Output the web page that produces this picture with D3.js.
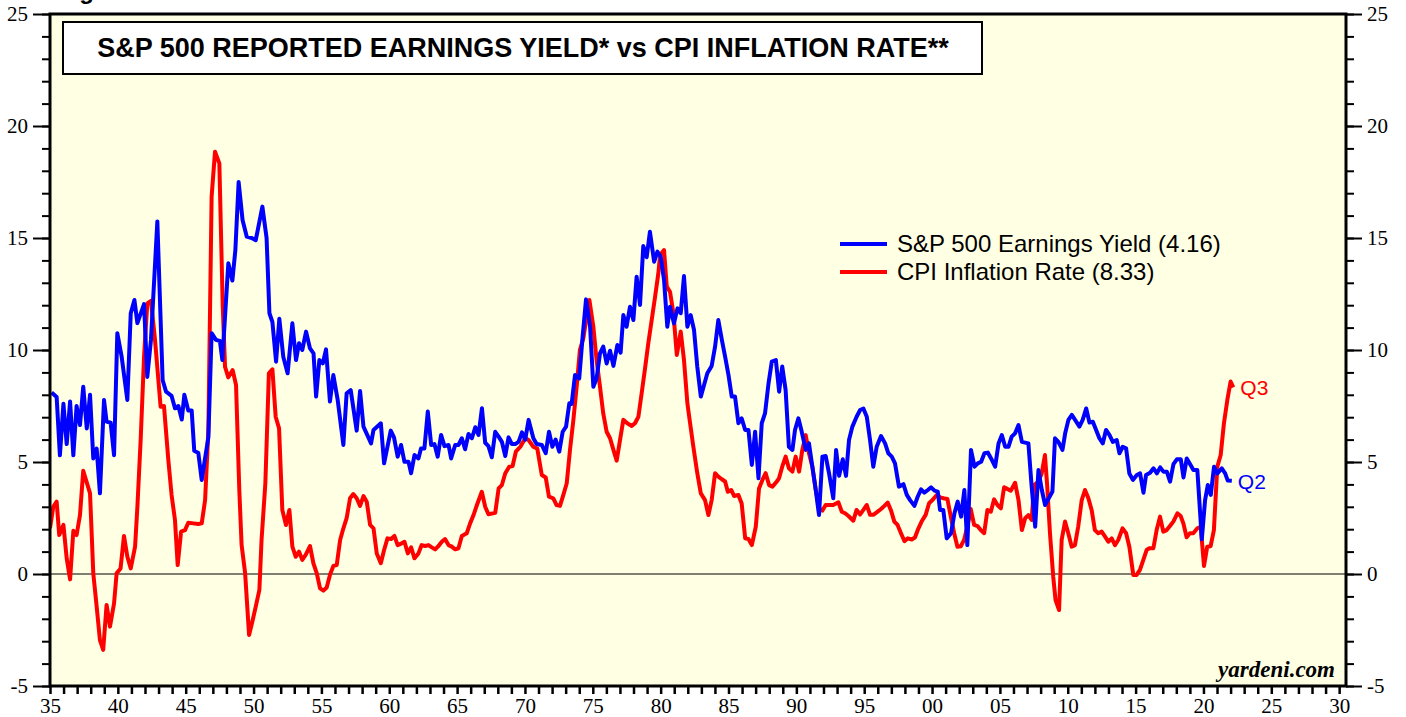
<!DOCTYPE html>
<html>
<head>
<meta charset="utf-8">
<script src="https://cdn.jsdelivr.net/npm/d3@7"></script>
<style>
  body { margin: 0; background: #fff; }
  svg { display: block; }
</style>
</head>
<body>
<svg id="chart" width="1406" height="717"></svg>
<script>
// axis ticks
const xTickYears = d3.range(1935, 2031);
const yTicks = d3.range(-5, 26);
const yLabelTicks = [-5, 0, 5, 10, 15, 20, 25];

const chartTitle = 'S&P 500 REPORTED EARNINGS YIELD* vs CPI INFLATION RATE**';
const legendLabels = ['S&P 500 Earnings Yield (4.16)', 'CPI Inflation Rate (8.33)'];
const lastLabels = ['Q2', 'Q3'];

// [year, percent]
const earningsYield = [
  [1935.12,8.1],[1935.49,7.9],[1935.73,5.3],[1935.99,7.6],[1936.23,5.8],[1936.48,7.7],[1936.72,5.3],[1936.96,7.5],
  [1937.21,6.65],[1937.45,8.36],[1937.71,6.5],[1937.95,8.0],[1938.19,5.16],[1938.44,5.6],[1938.68,3.6],[1938.98,7.77],
  [1939.17,6.8],[1939.47,6.75],[1939.72,5.3],[1939.96,10.75],[1940.28,9.7],[1940.7,7.77],[1940.95,11.64],[1941.22,12.23],
  [1941.44,11.2],[1941.93,12.05],[1942.17,8.8],[1942.44,10.45],[1942.91,15.74],[1943.3,8.66],[1943.55,8.14],[1943.96,7.95],
  [1944.21,7.4],[1944.46,7.5],[1944.71,6.9],[1944.9,8.0],[1945.19,7.3],[1945.44,7.3],[1945.63,5.5],[1945.93,5.4],
  [1946.18,4.2],[1946.67,6.1],[1946.91,10.75],[1947.23,10.45],[1947.52,10.4],[1947.7,9.55],[1948.14,13.87],[1948.44,13.1],
  [1948.66,14.46],[1948.9,17.5],[1949.19,15.8],[1949.5,15.06],[1949.86,15.0],[1950.16,14.9],[1950.65,16.4],[1950.96,15.0],
  [1951.17,11.64],[1951.39,11.25],[1951.66,9.48],[1951.9,11.4],[1952.19,9.7],[1952.51,8.96],[1952.86,11.19],[1953.13,9.55],
  [1953.35,10.3],[1953.59,10.0],[1953.87,10.82],[1954.16,10.07],[1954.42,9.85],[1954.61,7.92],[1954.85,9.55],[1955.1,9.4],
  [1955.34,10.03],[1955.63,7.7],[1955.88,8.88],[1956.2,7.77],[1956.62,5.76],[1956.86,8.07],[1957.16,8.21],[1957.6,6.4],
  [1957.85,8.17],[1958.1,6.58],[1958.66,5.83],[1958.84,6.43],[1959.38,6.73],[1959.62,4.94],[1960.11,6.4],[1960.35,6.1],
  [1960.62,5.24],[1960.87,5.76],[1961.12,5.01],[1961.42,5.01],[1961.61,4.5],[1961.86,5.31],[1962.15,5.16],[1962.34,5.6],
  [1962.59,5.6],[1962.84,7.25],[1963.09,5.76],[1963.33,5.8],[1963.57,5.24],[1963.82,6.21],[1964.07,5.71],[1964.37,5.76],
  [1964.56,5.16],[1964.86,5.76],[1965.1,5.76],[1965.35,6.06],[1965.59,5.57],[1965.84,6.25],[1966.09,6.06],[1966.34,6.55],
  [1966.58,6.21],[1966.83,7.4],[1967.07,5.86],[1967.31,5.71],[1967.56,5.21],[1967.81,6.35],[1968.06,6.13],[1968.3,5.9],
  [1968.55,5.27],[1968.79,6.1],[1969.04,5.8],[1969.28,5.8],[1969.53,5.9],[1969.78,6.32],[1970.02,6.0],[1970.27,6.88],
  [1970.62,6.06],[1970.86,5.8],[1971.24,5.76],[1971.53,5.39],[1971.77,6.35],[1972.02,5.68],[1972.26,6.0],[1972.53,5.46],
  [1972.78,6.35],[1973.03,6.58],[1973.27,7.62],[1973.44,7.59],[1973.69,8.88],[1974.0,8.73],[1974.25,10.6],[1974.5,12.26],
  [1974.8,11.04],[1975.04,8.36],[1975.28,8.73],[1975.53,9.85],[1975.77,10.15],[1976.02,9.4],[1976.27,9.97],[1976.52,9.29],
  [1976.81,10.22],[1977.05,9.88],[1977.25,11.56],[1977.49,11.04],[1977.74,11.93],[1977.99,11.34],[1978.23,13.27],[1978.48,12.01],
  [1978.72,14.64],[1978.97,14.14],[1979.21,15.28],[1979.52,13.94],[1979.76,14.39],[1980.0,14.17],[1980.25,13.13],[1980.49,11.04],
  [1980.69,11.93],[1980.98,11.19],[1981.24,11.86],[1981.48,11.64],[1981.72,13.3],[1981.97,11.04],[1982.21,11.56],[1982.46,10.89],
  [1982.7,9.25],[1982.96,7.92],[1983.2,8.44],[1983.44,8.96],[1983.76,9.29],[1984.01,10.15],[1984.25,11.34],[1984.51,10.45],
  [1984.75,9.7],[1985.0,8.88],[1985.24,7.92],[1985.48,7.92],[1985.73,6.73],[1985.97,6.95],[1986.23,6.43],[1986.47,6.43],
  [1986.72,4.87],[1986.96,6.35],[1987.21,4.27],[1987.45,6.73],[1987.69,7.17],[1987.95,8.51],[1988.19,9.48],[1988.49,9.55],
  [1988.73,8.14],[1988.96,9.26],[1989.21,8.21],[1989.45,5.68],[1989.71,5.54],[1989.9,6.43],[1990.15,6.95],[1990.39,6.37],
  [1990.69,5.54],[1990.93,5.83],[1991.18,4.79],[1991.43,3.75],[1991.67,2.63],[1991.92,5.24],[1992.16,5.27],[1992.41,4.49],
  [1992.72,3.38],[1992.93,5.54],[1993.15,4.38],[1993.42,5.12],[1993.66,4.38],[1993.88,5.98],[1994.13,6.58],[1994.44,7.02],
  [1994.7,7.32],[1994.94,7.39],[1995.19,7.02],[1995.43,5.98],[1995.67,4.79],[1995.92,5.68],[1996.24,6.16],[1996.54,5.83],
  [1996.78,5.39],[1997.03,5.24],[1997.27,4.94],[1997.56,3.9],[1997.89,4.01],[1998.14,3.53],[1998.38,3.3],[1998.7,3.04],
  [1998.94,3.45],[1999.19,3.78],[1999.43,3.63],[1999.69,3.75],[1999.93,3.87],[2000.18,3.72],[2000.42,3.68],[2000.59,2.86],
  [2000.83,2.86],[2001.08,1.59],[2001.4,1.82],[2001.65,2.71],[2001.89,3.23],[2002.14,2.56],[2002.38,3.75],[2002.6,1.29],
  [2002.87,5.54],[2003.13,4.79],[2003.37,4.94],[2003.62,5.01],[2003.86,5.39],[2004.11,5.42],[2004.35,5.16],[2004.65,4.79],
  [2004.9,5.83],[2005.14,6.2],[2005.39,5.68],[2005.63,5.68],[2005.87,6.13],[2006.12,6.28],[2006.37,6.65],[2006.62,5.9],
  [2007.1,5.83],[2007.34,3.9],[2007.6,2.11],[2007.84,4.64],[2008.09,3.75],[2008.33,3.08],[2008.87,3.68],[2009.06,6.06],
  [2009.31,5.9],[2009.61,5.54],[2009.81,6.28],[2010.05,6.88],[2010.3,7.1],[2010.54,6.88],[2010.86,6.58],[2011.1,6.88],
  [2011.36,7.39],[2011.6,6.76],[2011.85,6.8],[2012.09,6.43],[2012.33,6.06],[2012.58,5.83],[2012.82,6.43],[2013.08,6.2],
  [2013.32,5.9],[2013.61,5.98],[2013.81,5.39],[2014.05,5.68],[2014.3,5.61],[2014.54,4.49],[2014.8,4.2],[2015.09,4.42],
  [2015.33,4.49],[2015.58,3.63],[2015.77,4.42],[2016.07,4.52],[2016.32,4.72],[2016.57,4.49],[2016.81,4.76],[2017.05,4.57],
  [2017.3,4.57],[2017.54,4.12],[2017.79,4.9],[2018.04,5.12],[2018.33,5.12],[2018.53,4.31],[2018.77,5.16],[2019.02,4.9],
  [2019.26,4.64],[2019.55,4.64],[2019.88,1.55],[2020.12,3.3],[2020.32,3.97],[2020.54,3.53],[2020.78,4.79],[2021.03,4.49],
  [2021.35,4.72],[2021.6,4.49],[2021.79,4.17],[2022.09,4.16]
];

const cpiInflation = [
  [1935.0,2.04],[1935.24,3.0],[1935.49,3.23],[1935.68,1.74],[1935.99,2.19],[1936.23,0.7],[1936.48,-0.24],[1936.72,1.93],
  [1936.96,1.74],[1937.21,2.63],[1937.45,4.61],[1937.95,3.6],[1938.19,0.03],[1938.44,-1.46],[1938.68,-2.95],[1938.92,-3.39],
  [1939.17,-1.38],[1939.42,-2.35],[1939.72,-1.31],[1939.91,0.03],[1940.2,0.25],[1940.45,1.7],[1940.7,0.77],[1940.95,0.25],
  [1941.27,1.22],[1941.44,3.0],[1941.68,5.98],[1941.93,9.7],[1942.17,12.08],[1942.44,12.19],[1942.74,10.45],[1943.15,7.47],
  [1943.4,7.5],[1943.72,5.09],[1943.96,3.53],[1944.21,2.41],[1944.41,0.4],[1944.66,1.89],[1944.95,1.96],[1945.19,2.29],
  [1945.56,2.26],[1945.93,2.23],[1946.18,2.26],[1946.43,3.3],[1946.67,6.43],[1946.91,16.85],[1947.16,18.85],[1947.48,18.33],
  [1947.73,11.93],[1947.9,9.25],[1948.14,8.78],[1948.46,9.1],[1948.71,8.44],[1948.95,3.75],[1949.12,1.29],[1949.38,0.03],
  [1949.67,-2.72],[1949.91,-2.13],[1950.19,-1.38],[1950.43,-0.71],[1950.59,1.52],[1950.87,4.05],[1951.13,8.96],[1951.39,9.14],
  [1951.63,7.02],[1951.88,6.5],[1952.12,2.86],[1952.39,2.19],[1952.64,2.86],[1952.86,1.22],[1953.11,0.77],[1953.35,1.0],
  [1953.59,0.63],[1953.84,0.85],[1954.16,1.25],[1954.41,0.48],[1954.66,0.03],[1954.9,-0.64],[1955.15,-0.74],[1955.39,-0.6],
  [1955.63,-0.04],[1955.88,0.36],[1956.13,0.4],[1956.38,1.52],[1956.62,2.04],[1956.86,2.49],[1957.11,3.38],[1957.35,3.57],
  [1957.6,3.38],[1957.85,3.04],[1958.1,3.48],[1958.34,3.23],[1958.59,2.19],[1958.84,2.04],[1959.08,0.92],[1959.38,0.48],
  [1959.62,1.07],[1959.87,1.59],[1960.14,1.56],[1960.38,1.7],[1960.62,1.29],[1960.92,1.37],[1961.12,1.44],[1961.37,0.92],
  [1961.61,1.19],[1961.86,0.7],[1962.15,0.92],[1962.39,1.29],[1962.64,1.25],[1962.89,1.29],[1963.14,1.19],[1963.38,1.1],
  [1963.63,1.25],[1963.87,1.44],[1964.11,1.56],[1964.37,1.29],[1964.61,1.22],[1964.86,1.1],[1965.1,1.15],[1965.35,1.7],
  [1965.71,1.82],[1965.96,2.26],[1966.21,2.63],[1966.46,3.08],[1966.82,3.67],[1967.07,3.0],[1967.31,2.67],[1967.81,2.73],
  [1968.06,3.82],[1968.3,3.97],[1968.55,4.5],[1968.84,4.79],[1969.09,4.82],[1969.33,5.46],[1969.66,5.68],[1970.02,6.06],
  [1970.27,5.98],[1970.62,5.68],[1970.91,5.6],[1971.24,4.42],[1971.53,4.31],[1971.77,3.45],[1972.09,3.38],[1972.33,3.08],
  [1972.58,3.04],[1972.83,3.53],[1973.08,4.05],[1973.32,5.54],[1973.57,6.88],[1973.81,8.36],[1974.05,10.0],[1974.3,10.52],
  [1974.55,11.49],[1974.75,12.23],[1975.04,11.04],[1975.28,9.55],[1975.53,8.36],[1975.77,7.17],[1976.02,6.35],[1976.27,6.06],
  [1976.52,5.54],[1976.76,5.06],[1977.01,6.0],[1977.25,6.88],[1977.54,6.73],[1977.87,6.61],[1978.11,6.73],[1978.36,7.02],
  [1978.6,8.07],[1978.85,9.18],[1979.09,10.3],[1979.34,11.34],[1979.59,12.38],[1979.83,13.42],[1979.96,14.24],[1980.25,14.46],
  [1980.45,12.83],[1980.69,12.6],[1980.94,11.64],[1981.19,9.78],[1981.48,10.82],[1981.72,9.55],[1981.97,7.62],[1982.17,6.73],
  [1982.41,5.68],[1982.7,4.5],[1982.96,3.6],[1983.27,3.3],[1983.52,2.63],[1983.76,3.3],[1984.01,4.5],[1984.25,4.35],
  [1984.51,4.23],[1984.75,4.13],[1984.95,3.67],[1985.2,3.75],[1985.42,3.48],[1985.73,3.53],[1985.97,3.15],[1986.23,1.59],
  [1986.47,1.56],[1986.72,1.29],[1987.01,2.11],[1987.25,3.82],[1987.5,4.2],[1987.74,4.5],[1987.99,3.97],[1988.24,3.9],
  [1988.56,4.13],[1988.72,4.27],[1988.96,4.79],[1989.21,5.24],[1989.45,4.72],[1989.71,4.57],[1989.95,5.24],[1990.2,4.57],
  [1990.44,5.54],[1990.69,6.2],[1990.93,5.39],[1991.18,4.79],[1991.43,3.75],[1991.67,2.93],[1991.92,2.83],[1992.16,3.08],
  [1992.48,3.08],[1992.72,3.08],[1993.1,3.2],[1993.35,2.78],[1993.59,2.71],[1993.84,2.59],[1994.2,2.38],[1994.44,2.86],
  [1994.7,2.66],[1994.94,2.86],[1995.19,3.08],[1995.43,2.64],[1995.67,2.64],[1995.92,2.75],[1996.24,2.9],[1996.49,3.04],
  [1996.73,3.19],[1996.98,2.83],[1997.22,2.34],[1997.46,2.19],[1997.71,1.82],[1997.96,1.47],[1998.21,1.59],[1998.5,1.54],
  [1998.74,1.63],[1998.99,2.03],[1999.23,2.34],[1999.53,2.64],[1999.78,3.16],[2000.03,3.3],[2000.35,3.53],[2000.59,3.42],
  [2000.84,3.38],[2001.13,3.35],[2001.38,2.56],[2001.63,1.82],[2001.87,1.22],[2002.12,1.24],[2002.36,1.52],[2002.6,2.11],
  [2002.85,2.9],[2003.1,2.19],[2003.35,2.14],[2003.59,1.96],[2003.84,1.82],[2004.08,2.86],[2004.33,2.78],[2004.57,3.33],
  [2004.82,3.08],[2005.07,2.93],[2005.31,3.87],[2005.56,3.8],[2005.8,3.72],[2006.12,4.07],[2006.37,3.3],[2006.62,1.96],
  [2006.86,2.49],[2007.1,2.63],[2007.34,2.41],[2007.52,3.97],[2007.83,4.12],[2008.08,4.49],[2008.32,5.31],[2008.49,3.9],
  [2008.69,1.82],[2008.93,-0.12],[2009.1,-1.16],[2009.36,-1.61],[2009.55,1.52],[2009.8,2.34],[2010.04,1.82],[2010.29,1.22],
  [2010.53,1.29],[2010.77,2.11],[2011.03,3.3],[2011.27,3.75],[2011.52,3.38],[2011.76,2.86],[2012.0,1.96],[2012.25,1.82],
  [2012.5,1.89],[2012.75,1.67],[2012.99,1.44],[2013.24,1.59],[2013.48,1.29],[2013.72,1.52],[2014.04,2.04],[2014.3,1.82],
  [2014.54,1.22],[2014.83,-0.04],[2015.08,-0.04],[2015.32,0.18],[2015.57,0.63],[2015.81,1.07],[2016.01,1.15],[2016.31,1.15],
  [2016.55,1.96],[2016.8,2.56],[2017.04,1.89],[2017.29,1.96],[2017.53,2.14],[2017.78,2.34],[2018.08,2.71],[2018.32,2.59],
  [2018.52,2.26],[2018.76,1.64],[2019.0,1.82],[2019.25,1.82],[2019.55,2.04],[2019.8,2.11],[2020.04,0.36],[2020.28,1.22],
  [2020.53,1.24],[2020.77,1.96],[2021.02,4.79],[2021.27,5.31],[2021.51,6.73],[2021.76,7.77],[2022.0,8.59],[2022.2,8.33]
];

const svg = d3.select('#chart');
const plot = { left: 50, right: 1346, top: 14, bottom: 686 };

const xScale = d3.scaleLinear()
  .domain([1935, 2030])
  .range([plot.left, plot.left + 95 * 13.57]);

const yScale = d3.scaleLinear()
  .domain([-5, 25])
  .range([plot.bottom, plot.top]);

// figure heading, mostly above the visible area
svg.append('text')
  .attr('x', 58).attr('y', -1)
  .attr('font-family', 'Liberation Sans, Arial, sans-serif')
  .attr('font-weight', 'bold').attr('font-size', 24)
  .text('Figure 1.');

svg.append('rect')
  .attr('x', plot.left).attr('y', plot.top)
  .attr('width', plot.right - plot.left).attr('height', plot.bottom - plot.top)
  .attr('fill', '#ffffe3');

svg.append('clipPath').attr('id', 'clip')
  .append('rect')
  .attr('x', plot.left).attr('y', plot.top)
  .attr('width', plot.right - plot.left).attr('height', plot.bottom - plot.top);

// zero line
svg.append('line')
  .attr('x1', plot.left).attr('x2', plot.right)
  .attr('y1', yScale(0)).attr('y2', yScale(0))
  .attr('stroke', '#000').attr('stroke-width', 1.2);

const line = d3.line()
  .x(d => xScale(d[0]))
  .y(d => yScale(d[1]));

const g = svg.append('g').attr('clip-path', 'url(#clip)');

g.append('path')
  .attr('d', line(cpiInflation))
  .attr('fill', 'none').attr('stroke', '#ff0000')
  .attr('stroke-width', 4).attr('stroke-linejoin', 'round');

g.append('path')
  .attr('d', line(earningsYield))
  .attr('fill', 'none').attr('stroke', '#0000ff')
  .attr('stroke-width', 4).attr('stroke-linejoin', 'round');

// axes
const axisFont = 'Liberation Serif, Times New Roman, serif';
const yearFmt = d => d % 5 === 0 ? String(d % 100).padStart(2, '0') : '';
const numFmt = d => String(d);

const xAxis = svg.append('g')
  .attr('transform', `translate(0,${plot.bottom})`)
  .call(d3.axisBottom(xScale).tickValues(xTickYears).tickSize(8).tickPadding(4).tickFormat(yearFmt));

const yMinorL = svg.append('g')
  .attr('transform', `translate(${plot.left},0)`)
  .call(d3.axisLeft(yScale).tickValues(yTicks).tickSize(8).tickFormat(''));
const yMajorL = svg.append('g')
  .attr('transform', `translate(${plot.left},0)`)
  .call(d3.axisLeft(yScale).tickValues(yLabelTicks).tickSize(17).tickPadding(5).tickFormat(numFmt));

const yMinorR = svg.append('g')
  .attr('transform', `translate(${plot.right},0)`)
  .call(d3.axisRight(yScale).tickValues(yTicks).tickSize(8).tickFormat(''));
const yMajorR = svg.append('g')
  .attr('transform', `translate(${plot.right},0)`)
  .call(d3.axisRight(yScale).tickValues(yLabelTicks).tickSize(16).tickPadding(5).tickFormat(numFmt));

[xAxis, yMinorL, yMajorL, yMinorR, yMajorR].forEach(a => {
  a.select('.domain').remove();
  a.selectAll('text')
    .attr('font-family', axisFont).attr('font-size', 21).attr('fill', '#000');
});
xAxis.selectAll('line').attr('stroke', '#000').attr('stroke-width', 2.5);
[yMinorL, yMajorL, yMinorR, yMajorR].forEach(a => a.selectAll('line').attr('stroke', '#000').attr('stroke-width', 2));

// frame
svg.append('rect')
  .attr('x', plot.left).attr('y', plot.top)
  .attr('width', plot.right - plot.left).attr('height', plot.bottom - plot.top)
  .attr('fill', 'none').attr('stroke', '#000').attr('stroke-width', 3);

// title box
svg.append('rect')
  .attr('x', 63).attr('y', 22)
  .attr('width', 919).attr('height', 52)
  .attr('fill', '#fff').attr('stroke', '#000').attr('stroke-width', 2);
svg.append('text')
  .attr('x', 523).attr('y', 57)
  .attr('text-anchor', 'middle')
  .attr('font-family', 'Liberation Sans, Arial, sans-serif')
  .attr('font-weight', 'bold').attr('font-size', 27)
  .text(chartTitle);

// legend
const legendColors = ['#0000ff', '#ff0000'];
const legend = svg.append('g').attr('transform', 'translate(840,244)');
legendLabels.forEach((label, i) => {
  legend.append('line')
    .attr('x1', 0).attr('x2', 47)
    .attr('y1', i * 28).attr('y2', i * 28)
    .attr('stroke', legendColors[i]).attr('stroke-width', 4);
  legend.append('text')
    .attr('x', 57).attr('y', i * 28 + 8)
    .attr('font-family', 'Liberation Sans, Arial, sans-serif')
    .attr('font-size', 24).attr('fill', '#000')
    .text(label);
});

// end-of-series labels
const lastEY = earningsYield[earningsYield.length - 1];
const lastCPI = cpiInflation[cpiInflation.length - 1];
svg.append('text')
  .attr('x', xScale(lastEY[0]) + 6).attr('y', yScale(lastEY[1]) + 8)
  .attr('font-family', 'Liberation Sans, Arial, sans-serif')
  .attr('font-size', 21).attr('fill', '#0000ff')
  .text(lastLabels[0]);
svg.append('text')
  .attr('x', xScale(lastCPI[0]) + 7).attr('y', yScale(lastCPI[1]) + 8)
  .attr('font-family', 'Liberation Sans, Arial, sans-serif')
  .attr('font-size', 21).attr('fill', '#ff0000')
  .text(lastLabels[1]);

// source
svg.append('text')
  .attr('x', 1335).attr('y', 677)
  .attr('text-anchor', 'end')
  .attr('font-family', 'Liberation Serif, Times New Roman, serif')
  .attr('font-weight', 'bold').attr('font-style', 'italic').attr('font-size', 23)
  .text('yardeni.com');
</script>
</body>
</html>
